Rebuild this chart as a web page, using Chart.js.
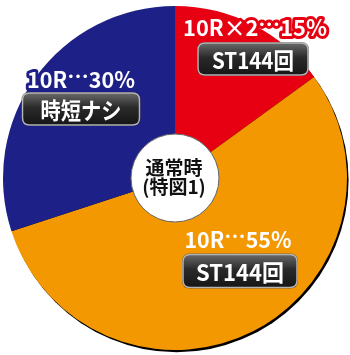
<!DOCTYPE html>
<html>
<head>
<meta charset="utf-8">
<script src="https://cdn.jsdelivr.net/npm/chart.js@4"></script>
<style>
  html, body { margin: 0; padding: 0; background: #ffffff; }
  #wrap { width: 350px; height: 355px; position: relative; }
</style>
</head>
<body>
<div id="wrap"><canvas id="c" width="350" height="355"></canvas></div>
<script>
// ---- data ----
const categories = ['10R×2…15%', '10R…55%', '10R…30%'];
const values = [15, 55, 30];
const badges = ['ST144回', 'ST144回', '時短ナシ'];
const centerLines = ['通常時', '(特図1)'];

// ---- styles ----
const sliceColors = ['#e60012', '#f39800', '#1d2087'];
const FONT = '"Noto Sans CJK JP", "Noto Sans", sans-serif';

// label placement relative to pie centre (pixels), and target text widths
const labelLayout = [
  { text: [80, -150], textW: 144, box: [78, -119], boxW: 110, boxH: 32, badgeW: 82 },
  { text: [63, 62],   textW: 107, box: [65, 93],   boxW: 114, boxH: 33, badgeW: 88 },
  { text: [-94, -98], textW: 108, box: [-94, -69], boxW: 117, boxH: 32, badgeW: 81 }
];

function roundRect(ctx, x, y, w, h, r) {
  ctx.beginPath();
  ctx.moveTo(x + r, y);
  ctx.lineTo(x + w - r, y);
  ctx.quadraticCurveTo(x + w, y, x + w, y + r);
  ctx.lineTo(x + w, y + h - r);
  ctx.quadraticCurveTo(x + w, y + h, x + w - r, y + h);
  ctx.lineTo(x + r, y + h);
  ctx.quadraticCurveTo(x, y + h, x, y + h - r);
  ctx.lineTo(x, y + r);
  ctx.quadraticCurveTo(x, y, x + r, y);
  ctx.closePath();
}

// split a label so the ellipsis can be drawn at mid height
function pieces(str) {
  const out = [];
  str.split(/(…)/).forEach(p => { if (p) out.push(p); });
  return out;
}

const shadowPlugin = {
  id: 'pieShadow',
  beforeDatasetsDraw(chart) {
    const arc = chart.getDatasetMeta(0).data[0];
    if (!arc) return;
    const ctx = chart.ctx;
    ctx.save();
    ctx.beginPath();
    ctx.arc(arc.x + 1.6, arc.y + 2.2, arc.outerRadius, 0, Math.PI * 2);
    ctx.fillStyle = '#000000';
    ctx.fill();
    ctx.restore();
  }
};

const labelPlugin = {
  id: 'pieLabels',
  afterDatasetsDraw(chart) {
    const meta = chart.getDatasetMeta(0);
    const arc = meta.data[0];
    const cx = arc.x, cy = arc.y;
    const ctx = chart.ctx;

    // centre circle outline
    ctx.save();
    ctx.beginPath();
    ctx.arc(cx, cy, arc.innerRadius, 0, Math.PI * 2);
    ctx.fillStyle = '#ffffff';
    ctx.fill();
    ctx.lineWidth = 1;
    ctx.strokeStyle = '#6d6d6d';
    ctx.stroke();
    ctx.restore();

    // centre text
    ctx.save();
    ctx.fillStyle = '#111111';
    ctx.textAlign = 'center';
    ctx.textBaseline = 'middle';
    ctx.font = 'bold 19px ' + FONT;
    ctx.fillText(centerLines[0], cx - 1, cy - 10);
    ctx.fillText(centerLines[1], cx - 1, cy + 9);
    ctx.restore();

    categories.forEach((cat, i) => {
      const L = labelLayout[i];
      // outlined category text
      ctx.save();
      ctx.font = 'bold 22px ' + FONT;
      ctx.textAlign = 'left';
      ctx.textBaseline = 'middle';
      const parts = pieces(cat);
      const widths = parts.map(p => ctx.measureText(p).width);
      const total = widths.reduce((a, b) => a + b, 0);
      ctx.translate(cx + L.text[0] - L.textW / 2, cy + L.text[1]);
      ctx.scale(L.textW / total, 1);
      ctx.lineJoin = 'round';
      ctx.lineWidth = 6;
      ctx.strokeStyle = sliceColors[i];
      ctx.fillStyle = '#ffffff';
      for (let pass = 0; pass < 2; pass++) {
        let x = 0;
        parts.forEach((p, k) => {
          const dy = p === '…' ? -4 : 0;
          if (pass === 0) ctx.strokeText(p, x, dy); else ctx.fillText(p, x, dy);
          x += widths[k];
        });
      }
      ctx.restore();

      // badge box
      const bx = cx + L.box[0] - L.boxW / 2;
      const by = cy + L.box[1] - L.boxH / 2;
      ctx.save();
      roundRect(ctx, bx - 1, by - 1, L.boxW + 2, L.boxH + 2, 8);
      ctx.fillStyle = 'rgba(0,0,0,0.55)';
      ctx.fill();
      roundRect(ctx, bx, by, L.boxW, L.boxH, 7);
      const g = ctx.createLinearGradient(0, by, 0, by + L.boxH);
      g.addColorStop(0, '#6a6a6a');
      g.addColorStop(0.45, '#2a2a2a');
      g.addColorStop(1, '#161616');
      ctx.fillStyle = g;
      ctx.fill();
      ctx.lineWidth = 1.5;
      ctx.strokeStyle = '#b4b4b4';
      ctx.stroke();
      ctx.restore();

      // badge text
      ctx.save();
      ctx.font = 'bold 23px ' + FONT;
      ctx.textAlign = 'left';
      ctx.textBaseline = 'middle';
      const bm = ctx.measureText(badges[i]).width;
      ctx.translate(cx + L.box[0] - L.badgeW / 2, cy + L.box[1] + 1);
      ctx.scale(L.badgeW / bm, 1);
      ctx.fillStyle = '#ffffff';
      ctx.fillText(badges[i], 0, 0);
      ctx.restore();
    });
  }
};

new Chart(document.getElementById('c'), {
  type: 'doughnut',
  data: {
    labels: categories,
    datasets: [{
      data: values,
      backgroundColor: sliceColors,
      borderWidth: 0
    }]
  },
  options: {
    responsive: false,
    animation: false,
    cutout: 44,
    layout: { padding: { top: 6, bottom: 5, left: 3, right: 3 } },
    plugins: {
      legend: { display: false },
      tooltip: { enabled: false }
    }
  },
  plugins: [shadowPlugin, labelPlugin]
});
</script>
</body>
</html>
